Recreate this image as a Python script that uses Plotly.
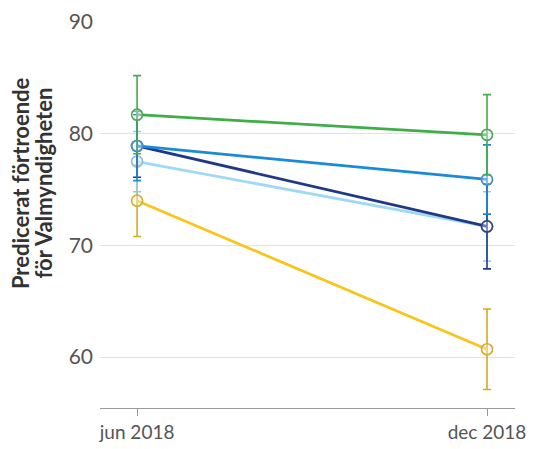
import plotly.graph_objects as go

periods = ["jun 2018", "dec 2018"]
x_pos = [0, 1]

values = {
    "green": [81.7, 79.9],
    "blue": [78.9, 75.9],
    "navy": [78.9, 71.7],
    "lightblue": [77.5, 71.7],
    "yellow": [74.0, 60.7],
}
errors = {
    "green": [3.5, 3.6],
    "blue": [3.1, 3.1],
    "navy": [2.8, 3.8],
    "lightblue": [2.7, 3.1],
    "yellow": [3.2, 3.6],
}
line_colors = {
    "green": "#3fae49",
    "blue": "#1b8ad8",
    "navy": "#1e3a86",
    "lightblue": "#9fd9f6",
    "yellow": "#f7c51c",
}
err_colors = {
    "green": "#3fae49",
    "blue": "#1b8ad8",
    "navy": "#1e3a86",
    "lightblue": "#8ccdee",
    "yellow": "#d4ab1c",
}
marker_colors = {
    "green": "#4fa85a",
    "blue": "#4a8fc8",
    "navy": "#33457e",
    "lightblue": "#8fbfd8",
    "yellow": "#d2ae3a",
}
title_lines = ["Predicerat förtroende", "för Valmyndigheten"]

FONT = "Lato, Open Sans, sans-serif"

fig = go.Figure()
draw_order = ["yellow", "lightblue", "navy", "blue", "green"]
for name in draw_order:
    fig.add_trace(go.Scatter(
        x=x_pos, y=values[name], mode="lines+markers", name=name,
        line=dict(color=line_colors[name], width=2.8),
        marker=dict(symbol="circle", size=11, color="rgba(255,255,255,0.35)",
                    line=dict(color=marker_colors[name], width=1.7)),
        error_y=dict(type="data", array=errors[name], visible=True,
                     color=err_colors[name], thickness=1.6, width=4),
        showlegend=False,
    ))

# page body has an 8px default margin, so the figure is shifted by (8, 8)
fig.update_layout(
    width=526, height=441,
    margin=dict(l=92, r=19, t=14, b=41),
    paper_bgcolor="white", plot_bgcolor="white",
    font=dict(family=FONT, color="#555"),
    xaxis=dict(
        range=[-0.106, 1.08], tickvals=x_pos, ticktext=periods,
        showgrid=False, zeroline=False, showline=True, linecolor="#999",
        linewidth=1.2, ticks="outside", ticklen=7, tickcolor="#999",
        tickfont=dict(size=19, color="#555"), automargin=False,
    ),
    yaxis=dict(
        range=[55.44, 90], tickvals=[60, 70, 80, 90],
        showgrid=True, gridcolor="#e2e2e2", gridwidth=1, zeroline=False,
        showline=False, ticks="", ticklabelstandoff=6,
        tickfont=dict(size=21, color="#555"), automargin=False,
    ),
    annotations=[
        dict(text="<b>%s</b>" % title_lines[0], xref="paper", yref="paper",
             x=-0.19, y=0.583, xanchor="center", yanchor="middle",
             textangle=-90, showarrow=False,
             font=dict(size=22, color="#333", family=FONT)),
        dict(text="<b>%s</b>" % title_lines[1], xref="paper", yref="paper",
             x=-0.136, y=0.583, xanchor="center", yanchor="middle",
             textangle=-90, showarrow=False,
             font=dict(size=22, color="#333", family=FONT)),
    ],
)

fig.write_html("out.html")
